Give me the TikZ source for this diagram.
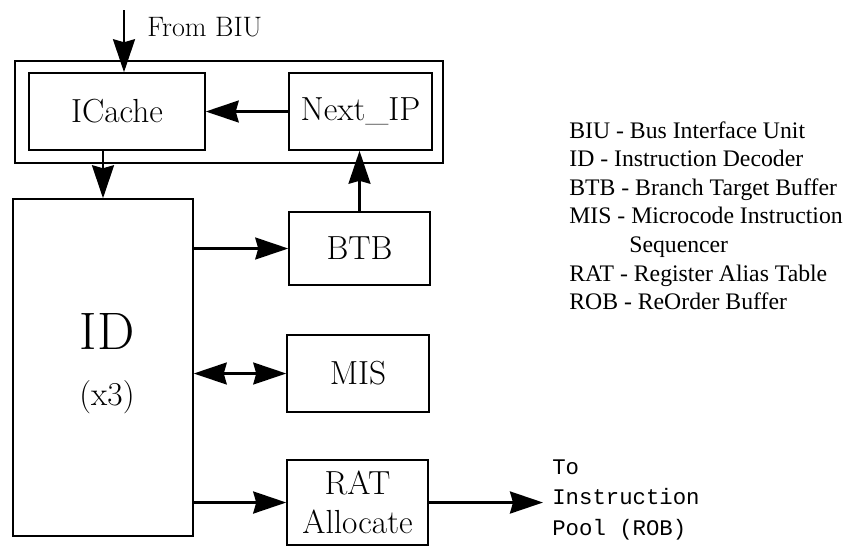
\documentclass[tikz,border=0pt]{standalone}
\usepackage{fontspec}
\newfontfamily\legendfont{Liberation Serif}
\newfontfamily\poolfont{Liberation Mono}
\usepackage{tikz}
\usetikzlibrary{arrows.meta}
\tikzstyle{block} = [draw,line width=0.9pt,inner sep=0pt,align=center,font=\fontsize{19}{22}\selectfont]
\tikzstyle{arrow} = [line width=1.3pt,-{Stealth[length=0.66cm,width=0.44cm,inset=0.06cm]}]
\tikzstyle{twoway} = [line width=1.3pt,{Stealth[length=0.66cm,width=0.44cm,inset=0.06cm]}-{Stealth[length=0.66cm,width=0.44cm,inset=0.06cm]}]

\begin{document}
\begin{tikzpicture}[x=0.02cm,y=-0.02cm]
	\useasboundingbox (0,0) rectangle (845,556);
	
	% Fetch unit:
	\draw[line width=0.9pt] (15,61) rectangle (443,163);
	\node[block,minimum width=3.52cm,minimum height=1.54cm] (icache) at (117,111.5) {ICache};
	\node[block,minimum width=2.86cm,minimum height=1.54cm] (nextip) at (360.5,111.5) {Next\_IP};
	
	% Decoder and the blocks beside it:
	\node[block,minimum width=3.6cm,minimum height=6.74cm] (id) at (103,367.5) {};
	\node[align=center,inner sep=0pt,font=\fontsize{19}{32}\selectfont] (idtext) at (107,364) {{\fontsize{30}{32}\selectfont ID}\\(x3)};
	\node[block,minimum width=2.82cm,minimum height=1.46cm] (btb) at (359.5,248.5) {BTB};
	\node[block,minimum width=2.84cm,minimum height=1.54cm] (mis) at (358,373.5) {MIS};
	\node[block,minimum width=2.82cm,minimum height=1.7cm] (rat) at (357.5,502.5) {RAT\\Allocate};
	
	% In and out:
	\coordinate (biu) at (124,10);
	\node[anchor=west,inner sep=0pt,font=\fontsize{16}{18}\selectfont] (frombiu) at (147,27) {From BIU};
	\coordinate (toend) at (543,502.5);
	\node[anchor=north west,align=left,inner sep=0pt,font=\poolfont\fontsize{12.7}{17.5}\selectfont] (pool) at (552,459) {To\\Instruction\\Pool (ROB)};
	
	% Connections:
	\draw[arrow] (biu) -- (biu |- icache.north);
	\draw[arrow] (nextip.west) -- (icache.east);
	\draw[arrow] (id.north |- icache.south) -- (id.north);
	\draw[arrow] (btb.north) -- (btb.north |- nextip.south);
	\draw[arrow] (id.east |- btb.west) -- (btb.west);
	\draw[twoway] (id.east |- mis.west) -- (mis.west);
	\draw[arrow,line width=1.6pt] (id.east |- rat.west) -- (rat.west);
	\draw[arrow,line width=1.6pt] (rat.east) -- (toend);
	
	% Legend:
	\node[anchor=north west,align=left,inner sep=0pt,font=\legendfont\fontsize{13.5}{16.3}\selectfont] (legend) at (569,121) {%
		BIU - Bus Interface Unit\\
		ID - Instruction Decoder\\
		BTB - Branch Target Buffer\\
		MIS - Microcode Instruction\\
		\hspace{1.2cm}Sequencer\\
		RAT - Register Alias Table\\
		ROB - ReOrder Buffer};
\end{tikzpicture}
\end{document}
